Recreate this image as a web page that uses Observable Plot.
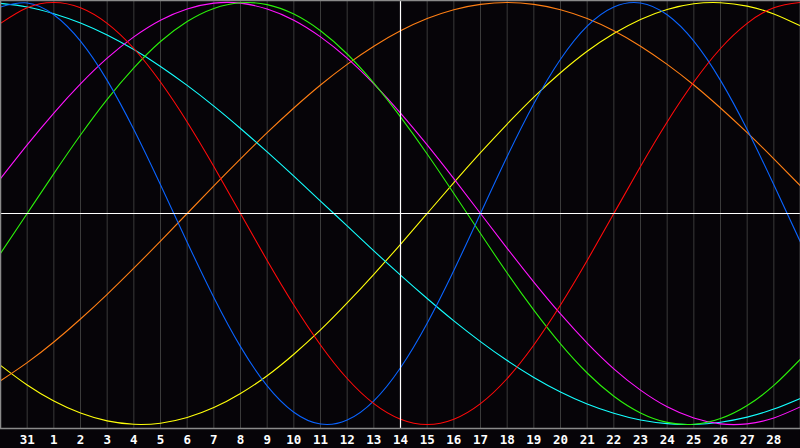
<!DOCTYPE html>
<html>
<head>
<meta charset="utf-8">
<script src="https://cdn.jsdelivr.net/npm/d3@7"></script>
<script src="https://cdn.jsdelivr.net/npm/@observablehq/plot@0.6"></script>
<style>
html, body { margin: 0; padding: 0; background: #060408; }
#chart svg { display: block; }
</style>
</head>
<body>
<div id="chart"></div>
<script>
// Day positions 0..30 along the x axis; labels shown at positions 1..29
const tickPositions = [1,2,3,4,5,6,7,8,9,10,11,12,13,14,15,16,17,18,19,20,21,22,23,24,25,26,27,28,29];
const tickLabels = ["31","1","2","3","4","5","6","7","8","9","10","11","12","13","14","15","16","17","18","19","20","21","22","23","24","25","26","27","28"];

// Cycle values read at each day position 0..30
const physical = [0.979,0.998,0.942,0.817,0.631,0.398,0.136,-0.136,-0.398,-0.631,-0.817,-0.942,-0.998,-0.979,-0.888,-0.731,-0.520,-0.270,0,0.270,0.520,0.731,0.888,0.979,0.998,0.942,0.817,0.631,0.398,0.136,-0.136];
const emotional = [0.901,0.975,1,0.975,0.901,0.782,0.623,0.434,0.223,0,-0.223,-0.434,-0.623,-0.782,-0.901,-0.975,-1,-0.975,-0.901,-0.782,-0.623,-0.434,-0.223,0,0.223,0.434,0.623,0.782,0.901,0.975,1];
const intellectual = [-0.189,0,0.189,0.372,0.541,0.690,0.815,0.910,0.972,0.999,0.990,0.945,0.866,0.756,0.618,0.458,0.282,0.095,-0.095,-0.282,-0.458,-0.618,-0.756,-0.866,-0.945,-0.990,-0.999,-0.972,-0.910,-0.815,-0.690];
const intuitive = [0.165,0.325,0.476,0.614,0.736,0.837,0.916,0.969,0.997,0.997,0.969,0.916,0.837,0.736,0.614,0.476,0.325,0.165,0,-0.165,-0.325,-0.476,-0.614,-0.736,-0.837,-0.916,-0.969,-0.997,-0.997,-0.969,-0.916];
const aesthetic = [-0.720,-0.813,-0.889,-0.946,-0.983,-0.999,-0.994,-0.967,-0.920,-0.853,-0.769,-0.667,-0.552,-0.424,-0.288,-0.146,0,0.146,0.288,0.424,0.552,0.667,0.769,0.853,0.920,0.967,0.994,0.999,0.983,0.946,0.889];
const awareness = [-0.793,-0.707,-0.609,-0.5,-0.383,-0.259,-0.131,0,0.131,0.259,0.383,0.5,0.609,0.707,0.793,0.866,0.924,0.966,0.991,1,0.991,0.966,0.924,0.866,0.793,0.707,0.609,0.5,0.383,0.259,0.131];
const spiritual = [0.996,0.979,0.947,0.903,0.846,0.777,0.697,0.607,0.509,0.403,0.292,0.177,0.059,-0.059,-0.177,-0.292,-0.403,-0.509,-0.607,-0.697,-0.777,-0.846,-0.903,-0.947,-0.979,-0.996,-1.000,-0.989,-0.965,-0.927,-0.876];

const seriesList = [
  {name: "aesthetic", values: aesthetic},
  {name: "awareness", values: awareness},
  {name: "spiritual", values: spiritual},
  {name: "intuitive", values: intuitive},
  {name: "intellectual", values: intellectual},
  {name: "physical", values: physical},
  {name: "emotional", values: emotional}
];
const colors = {
  physical: "#0a64ff",
  emotional: "#ff0a0a",
  intellectual: "#2bf00a",
  intuitive: "#ff14ff",
  aesthetic: "#ffff0a",
  awareness: "#ff7f14",
  spiritual: "#14ffff"
};

const lineMarks = seriesList.map(s =>
  Plot.line(s.values.map((v, i) => ({i, v})), {
    x: "i", y: "v", stroke: colors[s.name], strokeWidth: 1.1, curve: "natural"
  })
);

const chart = Plot.plot({
  width: 800,
  height: 448,
  marginTop: 0,
  marginLeft: 0,
  marginRight: 0,
  marginBottom: 20,
  style: {background: "#060408", color: "white", overflow: "visible"},
  x: {domain: [0, 30], axis: null},
  y: {domain: [-1.019, 1.0095], axis: null},
  marks: [
    Plot.ruleX(tickPositions, {stroke: "#3a3a3a", strokeWidth: 1}),
    ...lineMarks,
    Plot.ruleX([15], {stroke: "#ffffff", strokeWidth: 1.2}),
    Plot.ruleY([0], {stroke: "#ffffff", strokeWidth: 1.2}),
    Plot.frame({stroke: "#8a8a8a", strokeWidth: 1.5}),
    Plot.axisX(tickPositions, {
      tickSize: 0,
      tickPadding: 7,
      tickFormat: (d) => tickLabels[d - 1],
      fontSize: 12.5,
      fontWeight: "bold",
      fontFamily: "DejaVu Sans Mono",
      fill: "white",
      label: null
    })
  ]
});
document.getElementById("chart").append(chart);
</script>
</body>
</html>
